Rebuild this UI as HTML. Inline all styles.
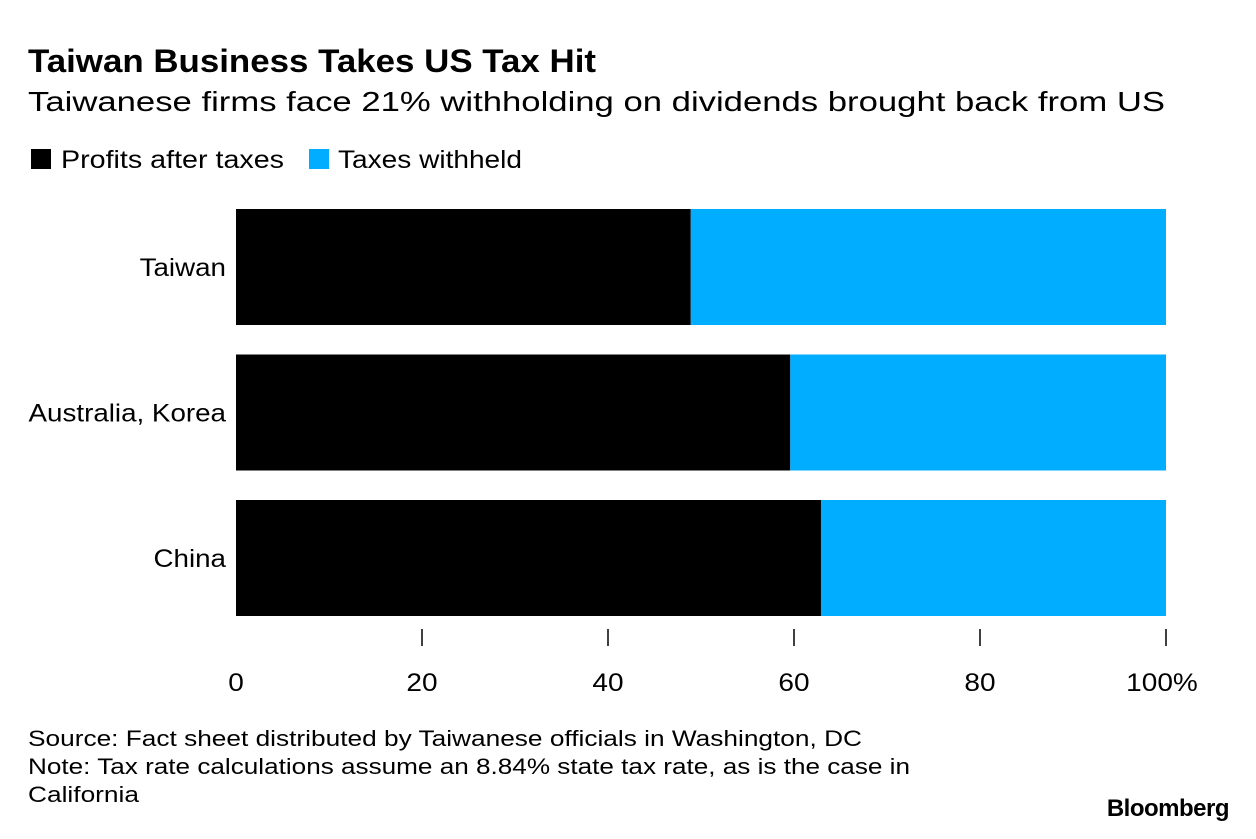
<!DOCTYPE html>
<html><head><meta charset="utf-8"><style>
body{margin:0;background:#fff;width:1256px;height:834px;overflow:hidden;font-family:"Liberation Sans",sans-serif;}
</style></head><body>
<svg width="1256" height="834" xmlns="http://www.w3.org/2000/svg">
<text x="28" y="72" font-size="32" font-weight="bold" fill="#000" textLength="568" lengthAdjust="spacingAndGlyphs">Taiwan Business Takes US Tax Hit</text>
<text x="28" y="111" font-size="28" fill="#000" textLength="1137" lengthAdjust="spacingAndGlyphs">Taiwanese firms face 21% withholding on dividends brought back from US</text>
<g>
<rect x="31" y="149" width="20" height="20" fill="#000"/>
<text x="61" y="168" font-size="25" textLength="223" lengthAdjust="spacingAndGlyphs">Profits after taxes</text>
<rect x="309" y="149" width="20" height="20" fill="#00adff"/>
<text x="338" y="168" font-size="25" textLength="184" lengthAdjust="spacingAndGlyphs">Taxes withheld</text>
</g>
<g id="plot"></g>
<text x="28" y="746" font-size="22" textLength="834" lengthAdjust="spacingAndGlyphs">Source: Fact sheet distributed by Taiwanese officials in Washington, DC</text>
<text x="28" y="774" font-size="22" textLength="882" lengthAdjust="spacingAndGlyphs">Note: Tax rate calculations assume an 8.84% state tax rate, as is the case in</text>
<text x="28" y="802" font-size="22" textLength="111" lengthAdjust="spacingAndGlyphs">California</text>
<text x="1229" y="816" font-size="24" font-weight="bold" text-anchor="end" letter-spacing="-0.5">Bloomberg</text>
</svg>
<script>
const categories = ["Taiwan", "Australia, Korea", "China"];
const profits = [48.9, 59.6, 62.9];
const taxes = [51.1, 40.4, 37.1];
const ticks = [0, 20, 40, 60, 80, 100];
const tickLabels = ["0", "20", "40", "60", "80", "100%"];

const NS = "http://www.w3.org/2000/svg";
const g = document.getElementById("plot");
const x0 = 236, x1 = 1166;
const xs = v => x0 + (x1 - x0) * v / 100;
const bandTop = 209, bandStep = 145.5, barH = 116;
const ys = i => bandTop + i * bandStep;
function mk(tag, attrs){const e=document.createElementNS(NS,tag);for(const k in attrs)e.setAttribute(k,attrs[k]);g.appendChild(e);return e;}
categories.forEach((c,i)=>{
  const y = ys(i);
  const b1 = mk("rect",{x:xs(0),y:y,width:xs(profits[i])-xs(0),height:barH,fill:"#000"});
  
  
  const b2 = mk("rect",{x:xs(profits[i]),y:y,width:xs(profits[i]+taxes[i])-xs(profits[i]),height:barH,fill:"#00adff"});
  
  
  const t = mk("text",{x:226,y:y+barH/2+9,"font-size":25,"text-anchor":"end"});
  t.textContent = c;
  const w = t.getComputedTextLength();
  t.setAttribute("textLength", w*1.11);
  t.setAttribute("lengthAdjust", "spacingAndGlyphs");
  
  
});
ticks.forEach((v,i)=>{
  if(v>0){
    const l = mk("line",{x1:xs(v),x2:xs(v),y1:629,y2:646,stroke:"#000","stroke-width":1.5});
    
    
  }
  const t = mk("text",{x:xs(v)+(i===ticks.length-1?-4:0),y:691,"font-size":25,"text-anchor":"middle"});
  t.textContent = tickLabels[i];
  const w = t.getComputedTextLength();
  t.setAttribute("textLength", w*1.12);
  t.setAttribute("lengthAdjust", "spacingAndGlyphs");
  
  
});
</script>
</body></html>
